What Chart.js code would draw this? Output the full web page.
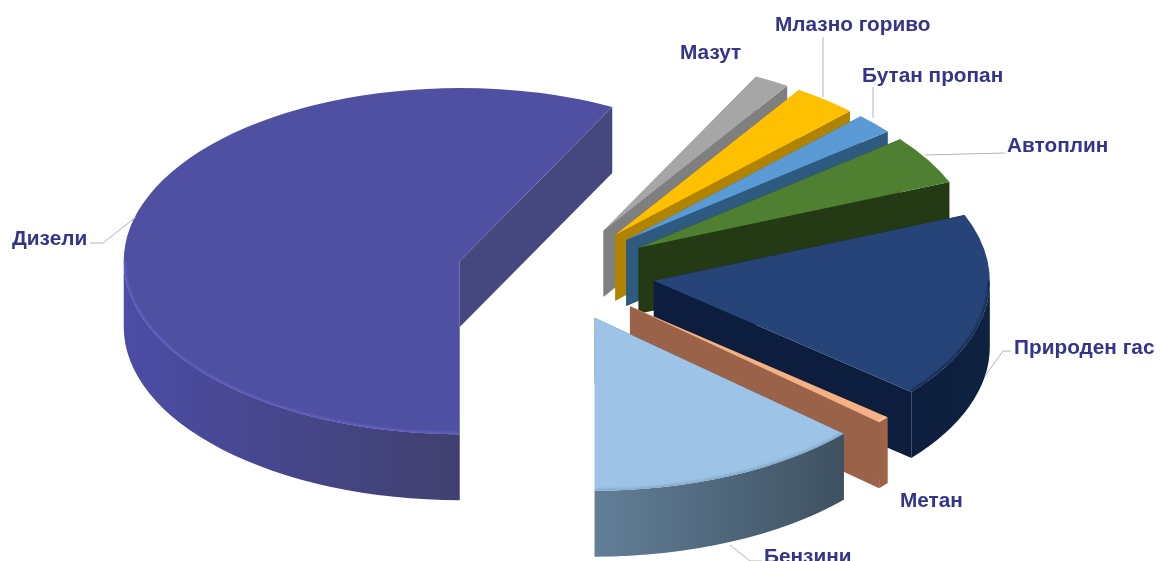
<!DOCTYPE html>
<html lang="mk">
<head>
<meta charset="utf-8">
<style>
html,body{margin:0;padding:0;background:#fff}
canvas{display:block}
</style>
<script src="https://cdn.jsdelivr.net/npm/chart.js@4/dist/chart.umd.min.js"></script>
</head>
<body>
<canvas id="fuels" width="1163" height="561"></canvas>
<script>
// Fuel shares in percent, clockwise from the bottom of the pie
const categories = ['Дизели','Мазут','Млазно гориво','Бутан пропан','Автоплин','Природен гас','Метан','Бензини'];
const shares = [57.5,1.7,3.1,1.9,4.6,17.3,0.6,13.3];

const topColors = ['#5050a2','#a6a6a6','#ffc000','#5b9bd5','#4f7f30','#264478','#f4b183','#9dc3e6'];
const wallLeft  = ['#4c4ca6','#7f7f7f','#b08400','#3f6f9a','#243a14','#0d1d3d','#9a6249','#627f98'];
const wallRight = ['#40406f','#7f7f7f','#b08400','#2f5a80','#243a14','#0f2240','#a06549','#3f5160'];
const radialWalls = ['#47477f','#7f7f7f','#b08400','#2f5a80','#243a14','#0d1d3d','#9a6249','#45596b'];
const rimColors = ['#5f5fc0','#a6a6a6','#ffc000','#5b9bd5','#4f7f30','#142b52','#f9c8a5','#86abcb'];
const explode = [99,95,95,95,96,99,98,95];

// Label anchors: text x, text baseline y
const labelAnchors = [[12,245],[680,59],[775,31],[862,82],[1007,152],[1014,354],[900,507],[764,563]];
// Leader polylines for the labels that have one
const leaders = [
  [[90,243],[103,243],[136,217]],
  null,
  [[823,37],[823,97]],
  [[873,87],[873,118]],
  [[1005,153],[925,155]],
  [[1011,351],[1003,351],[985,376]],
  null,
  [[762,561],[750,561],[730,545]]
];

const squash = 0.515;  // vertical flattening of the pie disc
const depth = 66;      // height of the extruded wall

function drawSlice(ctx, arc, i) {
  const {x, y, startAngle, endAngle, outerRadius: r} = arc.getProps(['x','y','startAngle','endAngle','outerRadius']);
  const mid = (startAngle + endAngle) / 2;
  const off = arc.options.offset;
  const cx = x + Math.cos(mid) * off;
  const cy = y + Math.sin(mid) * off * squash;
  const rim = (a) => [cx + Math.cos(a) * r, cy + Math.sin(a) * r * squash];

  // radial walls
  ctx.fillStyle = radialWalls[i];
  [startAngle, endAngle].forEach((a) => {
    const [px, py] = rim(a);
    ctx.beginPath();
    ctx.moveTo(cx, cy);
    ctx.lineTo(px, py);
    ctx.lineTo(px, py + depth);
    ctx.lineTo(cx, cy + depth);
    ctx.closePath();
    ctx.fill();
  });

  // curved outer wall, front half only
  const frontSpans = [];
  for (let k = -1; k <= 2; k++) {
    const lo = Math.max(startAngle, 2 * Math.PI * k);
    const hi = Math.min(endAngle, 2 * Math.PI * k + Math.PI);
    if (hi > lo) frontSpans.push([lo, hi]);
  }
  frontSpans.forEach(([lo, hi]) => {
    const [x0] = rim(hi);
    const [x1] = rim(lo);
    const g = ctx.createLinearGradient(x0, 0, x1, 0);
    g.addColorStop(0, wallLeft[i]);
    g.addColorStop(1, wallRight[i]);
    ctx.fillStyle = g;
    ctx.beginPath();
    ctx.ellipse(cx, cy, r, r * squash, 0, lo, hi);
    ctx.ellipse(cx, cy + depth, r, r * squash, 0, hi, lo, true);
    ctx.closePath();
    ctx.fill();
  });

  // top face
  ctx.fillStyle = arc.options.backgroundColor;
  ctx.beginPath();
  ctx.moveTo(cx, cy);
  ctx.ellipse(cx, cy, r, r * squash, 0, startAngle, endAngle);
  ctx.closePath();
  ctx.fill();

  // soft bevel along the front rim of the top face
  ctx.save();
  ctx.clip();
  ctx.filter = 'blur(1.2px)';
  ctx.strokeStyle = rimColors[i];
  ctx.lineWidth = 4;
  frontSpans.forEach(([lo, hi]) => {
    ctx.beginPath();
    ctx.ellipse(cx, cy, r, r * squash, 0, lo, hi);
    ctx.stroke();
  });
  ctx.restore();
}

const pieDepth = {
  id: 'pieDepth',
  beforeDatasetDraw(chart, args) {
    const ctx = chart.ctx;
    args.meta.data.forEach((arc, i) => {
      ctx.save();
      drawSlice(ctx, arc, i);
      ctx.restore();
    });
    return false;
  },
  afterDraw(chart) {
    const ctx = chart.ctx;
    ctx.save();
    ctx.strokeStyle = '#b4b4b4';
    ctx.lineWidth = 1;
    leaders.forEach((line) => {
      if (!line) return;
      ctx.beginPath();
      line.forEach(([px, py], n) => n ? ctx.lineTo(px, py) : ctx.moveTo(px, py));
      ctx.stroke();
    });
    ctx.font = 'bold 20.8px "Liberation Sans", Arial, sans-serif';
    ctx.fillStyle = '#34348a';
    ctx.textBaseline = 'alphabetic';
    chart.data.labels.forEach((text, i) => {
      ctx.fillText(text, labelAnchors[i][0], labelAnchors[i][1]);
    });
    ctx.restore();
  }
};

new Chart(document.getElementById('fuels'), {
  type: 'pie',
  data: {
    labels: categories,
    datasets: [{
      data: shares,
      backgroundColor: topColors,
      offset: explode,
      borderWidth: 0
    }]
  },
  options: {
    responsive: false,
    animation: false,
    rotation: 180,
    radius: 336,
    layout: { padding: { right: 51, bottom: 15 } },
    plugins: { legend: { display: false }, tooltip: { enabled: false } }
  },
  plugins: [pieDepth]
});
</script>
</body>
</html>
